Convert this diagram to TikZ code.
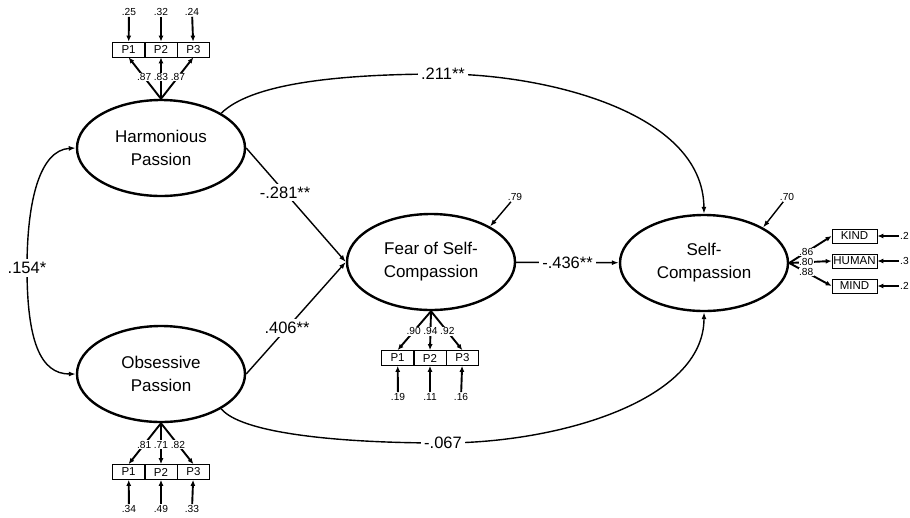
\documentclass[tikz,border=0pt]{standalone}
\usepackage{fontspec}
\setmainfont{Liberation Sans}
\usetikzlibrary{arrows.meta,positioning,shapes.geometric}

\begin{document}
\begin{tikzpicture}[x=1pt,y=-1pt,
  latent/.style={ellipse,draw,line width=2.4pt,minimum width=168pt,minimum height=96pt,inner sep=0pt,align=center,font=\fontsize{17}{23}\selectfont},
  ind/.style={rectangle,draw,line width=0.7pt,minimum width=31.7pt,minimum height=15pt,inner sep=0pt,font=\fontsize{11.5}{12}\selectfont},
  indw/.style={ind,minimum width=45pt,minimum height=14pt},
  sml/.style={inner sep=1pt,font=\fontsize{10.2}{11}\selectfont},
  load/.style={sml,fill=white,inner sep=0.5pt},
  big/.style={fill=white,inner sep=3pt,font=\fontsize{16.5}{18}\selectfont},
  reg/.style={line width=1.4pt,-{Latex[length=7pt,width=5pt]}},
  ia/.style={line width=1.9pt,-{Latex[length=6pt,width=5pt]}}]
  \useasboundingbox (0,0) rectangle (910,517);

  % latent variables
  \node[latent] (hp) at (161,148) {Harmonious\\Passion};
  \node[latent] (op) at (161,374) {Obsessive\\Passion};
  \node[latent] (fs) at (431,262) {Fear of Self-\\Compassion};
  \node[latent] (sc) at (704,263) {Self-\\Compassion};

  % harmonious passion indicators
  \node[ind] (hp2) at (161,49.5) {P2};
  \node[ind,left=0pt of hp2] (hp1) {P1};
  \node[ind,right=0pt of hp2] (hp3) {P3};
  \node[sml] (eh1) at (129,12) {.25};
  \node[sml] (eh2) at (161,12) {.32};
  \node[sml] (eh3) at (192,12) {.24};
  \draw[ia] (eh1) -- (hp1); \draw[ia] (eh2) -- (hp2); \draw[ia] (eh3) -- (hp3);
  \draw[ia] (hp.north) -- (hp1.south) node[load,pos=0.52]{.87};
  \draw[ia] (hp.north) -- (hp2.south) node[load,pos=0.52]{.83};
  \draw[ia] (hp.north) -- (hp3.south) node[load,pos=0.52]{.87};

  % obsessive passion indicators
  \node[ind] (op2) at (161,472) {P2};
  \node[ind,left=0pt of op2] (op1) {P1};
  \node[ind,right=0pt of op2] (op3) {P3};
  \node[sml] (eo1) at (129,509) {.34};
  \node[sml] (eo2) at (161,509) {.49};
  \node[sml] (eo3) at (192,509) {.33};
  \draw[ia] (eo1) -- (op1); \draw[ia] (eo2) -- (op2); \draw[ia] (eo3) -- (op3);
  \draw[ia] (op.south) -- (op1.north) node[load,pos=0.52]{.81};
  \draw[ia] (op.south) -- (op2.north) node[load,pos=0.52]{.71};
  \draw[ia] (op.south) -- (op3.north) node[load,pos=0.52]{.82};

  % fear of self-compassion indicators
  \node[ind] (fs2) at (430,358) {P2};
  \node[ind,left=0pt of fs2] (fs1) {P1};
  \node[ind,right=0pt of fs2] (fs3) {P3};
  \node[sml] (ef1) at (398,397) {.19};
  \node[sml] (ef2) at (430,397) {.11};
  \node[sml] (ef3) at (461,397) {.16};
  \draw[ia] (ef1) -- (fs1); \draw[ia] (ef2) -- (fs2); \draw[ia] (ef3) -- (fs3);
  \draw[ia] (fs.south) -- (fs1.north) node[load,pos=0.52]{.90};
  \draw[ia] (fs.south) -- (fs2.north) node[load,pos=0.52]{.94};
  \draw[ia] (fs.south) -- (fs3.north) node[load,pos=0.52]{.92};
  \node[sml] (rf) at (515,197) {.79};
  \draw[reg] (rf) -- (fs.31);

  % self-compassion indicators
  \node[indw] (kind) at (854.5,236) {KIND};
  \node[indw] (human) at (854.5,261) {HUMAN};
  \node[indw] (mind) at (854.5,286) {MIND};
  \node[sml,anchor=west] (ek) at (899,236) {.2};
  \node[sml,anchor=west] (eu) at (899,261) {.3};
  \node[sml,anchor=west] (em) at (899,286) {.2};
  \draw[ia] (ek) -- (kind); \draw[ia] (eu) -- (human); \draw[ia] (em) -- (mind);
  \draw[ia] (sc.east) -- (kind.west) node[load,pos=0.4]{.86};
  \draw[ia] (sc.east) -- (human.west) node[load,pos=0.4]{.80};
  \draw[ia] (sc.east) -- (mind.west) node[load,pos=0.4]{.88};
  \node[sml] (rs) at (787,197) {.70};
  \draw[reg] (rs) -- (sc.31);

  % structural paths
  \draw[reg,{Latex[length=7pt,width=5pt]}-{Latex[length=7pt,width=5pt]}] (hp.west) .. controls (40,150) and (27,200) .. (27,268) node[big]{.154*} .. controls (27,340) and (40,374) .. (op.west);
  \draw[reg] (hp.east) -- (fs.west) node[big,pos=0.39]{-.281**};
  \draw[reg] (op.east) -- (fs.west) node[big,pos=0.41]{.406**};
  \draw[reg] (fs) -- (sc) node[big,midway]{-.436**};
  \draw[reg] (hp.30) .. controls (250,85) and (330,74) .. (443,74) node[big]{.211**} .. controls (540,74) and (703,110) .. (sc.north);
  \draw[reg] (op.-30) .. controls (240,432) and (330,443) .. (443,443) node[big]{-.067} .. controls (560,443) and (704,400) .. (sc.south);
\end{tikzpicture}
\end{document}
